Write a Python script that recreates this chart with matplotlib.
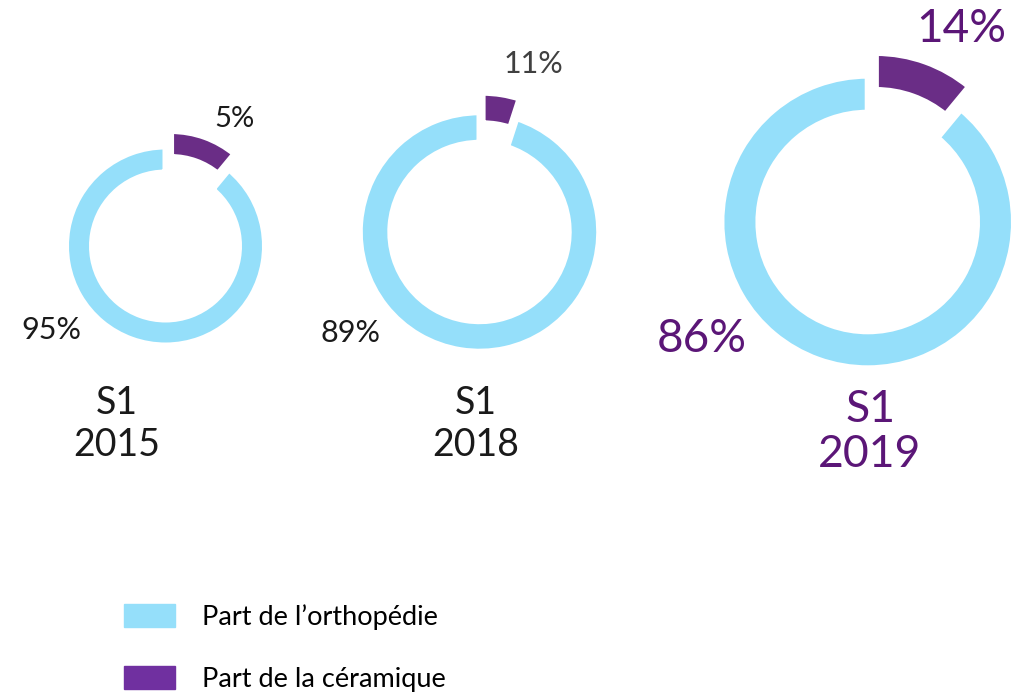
import matplotlib
matplotlib.use("Agg")
import matplotlib.pyplot as plt
from matplotlib.patches import Patch

W, H = 1024, 697

# arc shares of the ceramic part as drawn in the picture (%), and printed labels
periodes = ["S1\n2015", "S1\n2018", "S1\n2019"]
ceramique_arc = [11, 5, 11]
ceramique_lbl = ["5%", "11%", "14%"]
ortho_lbl = ["95%", "89%", "86%"]

BLUE = "#95dffa"
PURPLE = "#6a2d86"
LEG_PURPLE = "#7030a0"
TXT_PURPLE = "#5b1677"

# layout in pixels (y measured from top)
centres = [(165.5, 246), (479.5, 232), (867.7, 222)]
rayons = [96.5, 116.7, 143.3]
epaisseurs = [20, 24.5, 31]
EDGE = 6  # white separator, px

plt.rcParams['font.family'] = ['Lato', 'DejaVu Sans']

fig = plt.figure(figsize=(W / 100, H / 100), dpi=100)
ax = fig.add_axes([0, 0, 1, 1])

for i in range(3):
    cx, cy = centres[i]
    r = rayons[i] + EDGE / 2
    vals = [ceramique_arc[i], 100 - ceramique_arc[i]]
    ax.pie(vals, colors=[PURPLE, BLUE], startangle=90, counterclock=False,
           center=(cx, H - cy), radius=r, explode=[0.165 * r, 0],
           wedgeprops=dict(width=epaisseurs[i] + EDGE, edgecolor="white",
                           linewidth=EDGE * 72 / 100),
           frame=True)

# labels
lt = dict(ha="center", va="center")
ax.text(234, H - 119, ceramique_lbl[0], fontsize=21, color="#1a1a1a", **lt)
ax.text(51, H - 330, ortho_lbl[0], fontsize=22, color="#1a1a1a", **lt)
ax.text(533, H - 64, ceramique_lbl[1], fontsize=22, color="#404040", **lt)
ax.text(351, H - 333, ortho_lbl[1], fontsize=22, color="#1a1a1a", **lt)
ax.text(961, H - 29, ceramique_lbl[2], fontsize=33, color=TXT_PURPLE, **lt)
ax.text(702, H - 339, ortho_lbl[2], fontsize=33, color=TXT_PURPLE, **lt)

ax.text(117, H - 424, periodes[0], fontsize=27, color="#1a1a1a", linespacing=1.2, **lt)
ax.text(476, H - 424, periodes[1], fontsize=27, color="#1a1a1a", linespacing=1.2, **lt)
ax.text(870, H - 432, periodes[2], fontsize=32, color=TXT_PURPLE, linespacing=1.15, **lt)

handles = [Patch(color=BLUE, label="Part de l\u2019orthopédie"),
           Patch(color=LEG_PURPLE, label="Part de la céramique")]
fs = 19.5
fpx = fs * 100 / 72
ax.legend(handles=handles, loc="upper left", bbox_to_anchor=(124 / W, 1 - 604 / H),
          frameon=False, fontsize=fs, handlelength=51 / fpx, handleheight=24 / fpx,
          handletextpad=27 / fpx, labelspacing=1.35, borderpad=0, borderaxespad=0)

ax.set_xlim(0, W)
ax.set_ylim(0, H)
ax.set_aspect("equal")
ax.axis("off")

fig.savefig("out.png", dpi=100)
